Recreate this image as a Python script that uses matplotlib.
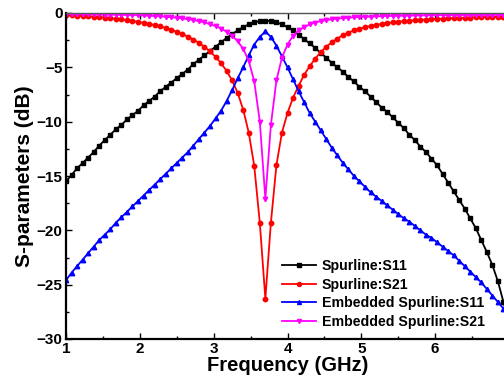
import numpy as np
import matplotlib
matplotlib.use("Agg")
import matplotlib.pyplot as plt

plt.rcParams['font.family'] = ['Liberation Sans', 'DejaVu Sans']
plt.rcParams['font.weight'] = 'bold'

freq = np.linspace(1.0, 7.0, 81)  # GHz sampling grid

spur_s11 = [-15.5, -14.9, -14.3, -13.8, -13.3, -12.8, -12.2, -11.7, -11.2, -10.7,
            -10.3, -9.8, -9.4, -9.0, -8.5, -8.1, -7.7, -7.2, -6.8, -6.4,
            -6.0, -5.6, -5.2, -4.7, -4.3, -3.9, -3.5, -3.1, -2.7, -2.3,
            -1.95, -1.6, -1.3, -1.05, -0.85, -0.75, -0.7, -0.75, -0.85, -1.05,
            -1.3, -1.6, -2.0, -2.4, -2.8, -3.2, -3.7, -4.1, -4.6, -5.0,
            -5.4, -5.9, -6.3, -6.8, -7.2, -7.7, -8.2, -8.7, -9.1, -9.6,
            -10.1, -10.6, -11.2, -11.7, -12.3, -12.8, -13.4, -14.0, -14.8, -15.6,
            -16.4, -17.2, -18.0, -18.9, -19.8, -20.9, -22.0, -23.2, -24.7, -26.6,
            -28.5]

spur_s21 = [-0.20, -0.22, -0.25, -0.28, -0.31, -0.35, -0.39, -0.43, -0.48, -0.53,
            -0.59, -0.66, -0.73, -0.81, -0.90, -1.00, -1.11, -1.24, -1.38, -1.54,
            -1.72, -1.93, -2.17, -2.44, -2.75, -3.11, -3.53, -4.03, -4.62, -5.33,
            -6.20, -7.35, -8.9, -11.0, -14.1, -19.3, -26.3, -19.3, -14.0, -11.0,
            -9.2, -7.8, -6.7, -5.7, -4.9, -4.2, -3.6, -3.1, -2.7, -2.35,
            -2.05, -1.8, -1.6, -1.45, -1.3, -1.2, -1.1, -1.0, -0.92, -0.86,
            -0.80, -0.75, -0.71, -0.67, -0.63, -0.60, -0.57, -0.54, -0.52, -0.50,
            -0.48, -0.46, -0.44, -0.42, -0.41, -0.40, -0.38, -0.37, -0.36, -0.35,
            -0.34]

emb_s11 = [-24.6, -23.9, -23.3, -22.7, -22.1, -21.5, -20.9, -20.4, -19.9, -19.3,
           -18.8, -18.3, -17.8, -17.3, -16.8, -16.3, -15.8, -15.3, -14.8, -14.3,
           -13.8, -13.3, -12.8, -12.2, -11.6, -11.0, -10.4, -9.7, -9.0, -8.1,
           -7.1, -6.0, -5.0, -3.9, -2.9, -2.2, -1.7, -2.2, -3.0, -4.0,
           -5.0, -6.1, -7.2, -8.2, -9.2, -10.0, -10.8, -11.6, -12.4, -13.1,
           -13.8, -14.4, -15.0, -15.5, -16.0, -16.5, -16.9, -17.3, -17.7, -18.1,
           -18.5, -18.9, -19.2, -19.6, -20.0, -20.4, -20.7, -21.1, -21.5, -21.9,
           -22.3, -22.8, -23.3, -23.8, -24.3, -24.8, -25.4, -26.0, -26.6, -27.2,
           -27.8]

emb_s21 = [-0.10, -0.10, -0.11, -0.11, -0.12, -0.12, -0.13, -0.14, -0.15, -0.16,
           -0.17, -0.18, -0.19, -0.21, -0.23, -0.25, -0.28, -0.31, -0.35, -0.39,
           -0.44, -0.50, -0.57, -0.65, -0.75, -0.87, -1.02, -1.20, -1.43, -1.72,
           -2.10, -2.60, -3.30, -4.40, -6.30, -10.0, -17.1, -10.3, -6.2, -4.1,
           -2.9, -2.1, -1.6, -1.3, -1.05, -0.88, -0.75, -0.65, -0.58, -0.52,
           -0.47, -0.43, -0.40, -0.37, -0.35, -0.33, -0.31, -0.30, -0.28, -0.27,
           -0.26, -0.25, -0.24, -0.23, -0.22, -0.22, -0.21, -0.21, -0.20, -0.20,
           -0.19, -0.19, -0.19, -0.18, -0.18, -0.18, -0.18, -0.17, -0.17, -0.17,
           -0.17]

labels = ["Spurline:S11", "Spurline:S21",
          "Embedded Spurline:S11", "Embedded Spurline:S21"]
colors = ["#000000", "#ff0000", "#0000ff", "#ff00ff"]
markers = ["s", "o", "^", "v"]
xticks = [1, 2, 3, 4, 5, 6]
yticks = [0, -5, -10, -15, -20, -25, -30]

fig = plt.figure(figsize=(5.04, 3.85), dpi=100)
ax = fig.add_axes([66/504, 46/385, (509-66)/504, (339-13)/385])

for y, c, m, lab in zip([spur_s11, spur_s21, emb_s11, emb_s21], colors, markers, labels):
    ax.plot(freq, y, color=c, marker=m, markersize=3.2, linewidth=1.3, label=lab)

ax.set_xlim(1, 7)
ax.set_ylim(-30, 0)
ax.set_xticks(xticks)
ax.set_yticks(yticks)
ax.set_xticks(np.arange(1.5, 7, 1.0), minor=True)
ax.set_yticks(np.arange(-27.5, 0, 5.0), minor=True)
ax.tick_params(which='both', direction='in', top=True, right=False, labelsize=11, pad=2.5)
ax.tick_params(which='major', length=4, width=1)
ax.tick_params(which='minor', length=2.5, width=1)
for lbl in ax.get_xticklabels() + ax.get_yticklabels():
    lbl.set_fontweight('bold')

ax.spines['left'].set_linewidth(1.6)
ax.spines['bottom'].set_linewidth(1.6)
ax.spines['top'].set_linewidth(1.0)
ax.spines['top'].set_color('#555555')
ax.spines['right'].set_visible(False)

ax.set_xlabel("Frequency (GHz)", fontsize=14.5, fontweight='bold', labelpad=0)
ax.set_ylabel("S-parameters (dB)", fontsize=15, fontweight='bold', labelpad=2)

leg = ax.legend(loc='upper left', bbox_to_anchor=(282/504, 1-259/385),
                bbox_transform=fig.transFigure, frameon=False,
                prop={'weight': 'bold', 'size': 10.2},
                handlelength=2.4, handletextpad=0.4, labelspacing=0.32,
                borderpad=0, borderaxespad=0, markerscale=0.9)

fig.savefig("out.png", dpi=100)
